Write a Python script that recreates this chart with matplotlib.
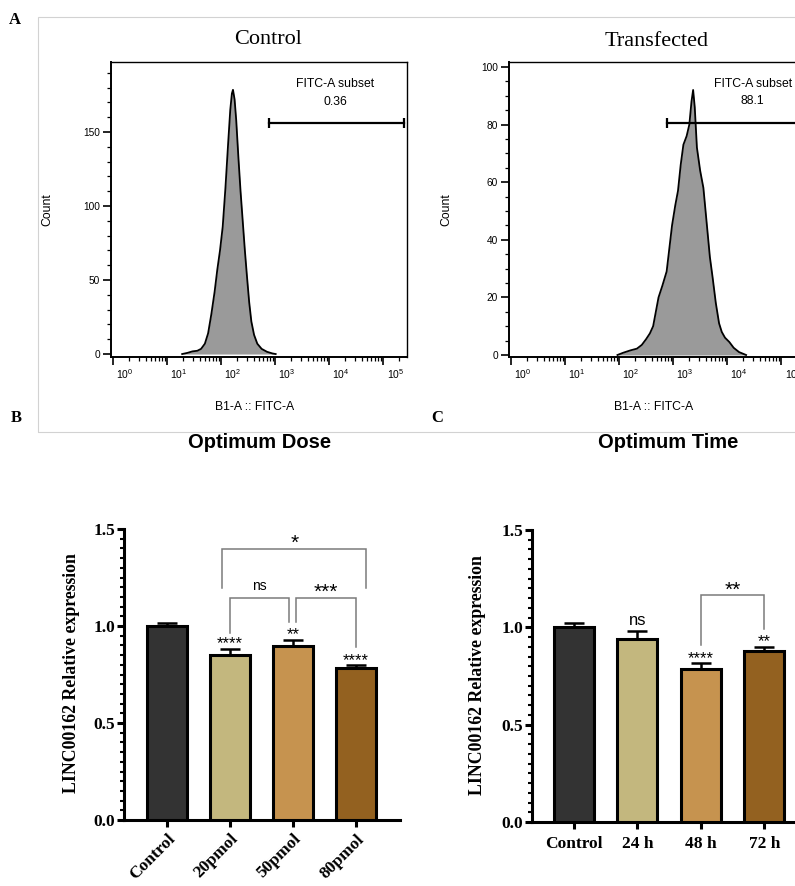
import numpy as np
import matplotlib
matplotlib.use('Agg')
import matplotlib.pyplot as plt
from matplotlib.ticker import MultipleLocator, FixedLocator, NullFormatter
from matplotlib.transforms import ScaledTranslation, offset_copy
from matplotlib.patches import Rectangle

plt.rcParams['mathtext.default'] = 'regular'

# ---------------- data ----------------
# Flow cytometry histograms (log10 of B1-A :: FITC-A intensity, count)
ctrl_hist_logx = [1.28, 1.38, 1.47, 1.56, 1.63, 1.70, 1.76, 1.82, 1.88, 1.93, 1.98,
                  2.03, 2.08, 2.13, 2.17, 2.20, 2.22, 2.25, 2.28, 2.32, 2.36, 2.40,
                  2.44, 2.48, 2.52, 2.56, 2.61, 2.67, 2.75, 2.85, 2.95, 3.01]
ctrl_hist_count = [0, 0.8, 1.8, 2.2, 3.5, 7, 14, 27, 42, 57, 70,
                   86, 112, 142, 165, 176, 178.5, 172, 158, 133, 110, 90,
                   70, 52, 35, 22, 13, 7, 3.5, 1.5, 0.4, 0]
trans_hist_logx = [1.97, 2.08, 2.21, 2.33, 2.42, 2.50, 2.57, 2.63, 2.68, 2.73, 2.80,
                   2.88, 2.93, 2.98, 3.04, 3.09, 3.14, 3.19, 3.25, 3.30, 3.34, 3.37,
                   3.40, 3.44, 3.50, 3.56, 3.62, 3.68, 3.73, 3.79, 3.85, 3.90, 3.96,
                   4.04, 4.12, 4.22, 4.35]
trans_hist_count = [0, 0.8, 1.6, 2.2, 3.5, 5.5, 7.5, 10, 15, 20, 24,
                    29, 37, 45, 52, 57, 66, 73, 76, 80, 88, 92,
                    86, 72, 64, 58, 46, 34, 27, 18, 11, 8, 6,
                    4.5, 2.5, 1, 0]
ctrl_gate_logx = [2.88, 5.38]
ctrl_gate_count = 156
ctrl_gate_value = "0.36"
trans_gate_logx = [2.88, 5.38]
trans_gate_count = 80.5
trans_gate_value = "88.1"
hist_decades = [0, 1, 2, 3, 4, 5]

# qPCR bar charts
dose_labels = ['Control', '20pmol', '50pmol', '80pmol']
dose_mean = [1.0, 0.85, 0.895, 0.785]
dose_err = [0.015, 0.03, 0.035, 0.012]
dose_sig = ['', '****', '**', '****']
time_labels = ['Control', '24 h', '48 h', '72 h']
time_mean = [1.0, 0.94, 0.785, 0.88]
time_err = [0.02, 0.043, 0.03, 0.018]
time_sig = ['', 'ns', '****', '**']
bar_colors = ['#333333', '#C3B77E', '#C6934F', '#936120']

# comparison brackets: (x_left, x_right, top, left_bottom, right_bottom, label)
dose_brackets = [(1.0, 1.94, 1.144, 0.964, 1.02, 'ns'),
                 (2.05, 3.0, 1.144, 1.02, 0.89, '***'),
                 (0.88, 3.16, 1.397, 1.196, 1.196, '*')]
time_brackets = [(2.0, 3.0, 1.164, 0.908, 0.993, '**')]

# ---------------- figure ----------------
W, H = 795, 886
fig = plt.figure(figsize=(W / 100, H / 100), dpi=100)
SERIF = 'Liberation Serif'
SANS = 'Liberation Sans'


def R(l, t, r, b):
    return [l / W, 1 - b / H, (r - l) / W, (b - t) / H]


def ftext(x, y, s, **kw):
    fig.text(x / W, 1 - y / H, s, **kw)


# light panel border around the cytometry plots
fig.add_artist(Rectangle((38 / W, 1 - 432 / H), (820 - 38) / W, (432 - 17) / H,
                         transform=fig.transFigure, fill=False,
                         edgecolor='#d2d2d2', lw=0.8))


def hist_panel(rect, lx, cnt, ylim, ymaj, ymin, gate_lx, gate_y, value,
               text_lx, text_y1, text_y2, title, title_xy, count_x, xlabel_x):
    ax = fig.add_axes(R(*rect))
    xs = 10 ** np.array(lx)
    ax.fill_between(xs, cnt, 0, color='#9a9a9a', lw=0, zorder=2)
    ax.plot(xs, cnt, color='black', lw=1.3, zorder=3, solid_joinstyle='round')
    ax.set_xscale('log')
    ax.set_xlim(10 ** (-0.037), 10 ** 5.44)
    ax.set_ylim(*ylim)
    ax.xaxis.set_major_locator(FixedLocator([10.0 ** k for k in hist_decades]))
    minors = [m * 10.0 ** k for k in hist_decades for m in range(2, 10)]
    ax.xaxis.set_minor_locator(FixedLocator(minors))
    ax.xaxis.set_major_formatter(NullFormatter())
    ax.xaxis.set_minor_formatter(NullFormatter())
    ax.yaxis.set_major_locator(MultipleLocator(ymaj))
    ax.yaxis.set_minor_locator(MultipleLocator(ymin))
    ax.tick_params(axis='both', which='major', direction='out', length=5.8,
                   width=1.2, colors='black')
    ax.tick_params(axis='both', which='minor', direction='out', length=2.9,
                   width=0.9, colors='black')
    ax.tick_params(axis='y', labelsize=7.3, pad=2)
    for lab in ax.get_yticklabels():
        lab.set_family(SANS)
    for s in ax.spines.values():
        s.set_linewidth(1.0)
    ax.spines['left'].set_linewidth(1.4)
    ax.spines['bottom'].set_linewidth(1.4)
    # decade labels, shifted right of the ticks
    tr = ax.get_xaxis_transform() + ScaledTranslation(12 / 100, -10 / 100, fig.dpi_scale_trans)
    for k in hist_decades:
        ax.text(10.0 ** k, 0, r'$10^{%d}$' % k, transform=tr, ha='center', va='top',
                fontsize=7.5, family=SANS, clip_on=False)
    # gate
    gx = 10 ** np.array(gate_lx)
    ax.plot(gx, [gate_y, gate_y], color='black', lw=1.6, zorder=4, clip_on=True)
    ax.plot(gx, [gate_y, gate_y], ls='none', marker='|', ms=7, mew=1.6,
            color='black', zorder=4)
    ax.text(10 ** text_lx, text_y1, 'FITC-A subset', ha='center', va='center',
            fontsize=8.8, family=SANS)
    ax.text(10 ** text_lx, text_y2, value, ha='center', va='center',
            fontsize=8.8, family=SANS)
    ftext(title_xy[0], title_xy[1], title, ha='center', va='center',
          fontsize=16, family=SERIF)
    ftext(count_x, 210, 'Count', rotation=90, ha='center', va='center',
          fontsize=8.8, family=SANS)
    ftext(xlabel_x, 407, 'B1-A :: FITC-A', ha='center', va='center',
          fontsize=8.8, family=SANS)
    return ax


hist_panel((111, 62, 407, 357), ctrl_hist_logx, ctrl_hist_count, (-2, 197.3), 50, 10,
           ctrl_gate_logx, ctrl_gate_count, ctrl_gate_value, 4.11, 182.4, 170.3,
           'Control', (268, 40), 47, 255)
hist_panel((509, 62, 805, 357), trans_hist_logx, trans_hist_count, (-0.7, 101.7), 20, 5,
           trans_gate_logx, trans_gate_count, trans_gate_value, 4.47, 94.1, 88.2,
           'Transfected', (657, 42), 446, 654)

# panel letters
ftext(15, 20, 'A', ha='center', va='center', fontsize=12, family=SERIF, weight='bold')
ftext(16, 418, 'B', ha='center', va='center', fontsize=12, family=SERIF, weight='bold')
ftext(437, 418, 'C', ha='center', va='center', fontsize=12, family=SERIF, weight='bold')


def star_text(ax, x, y, s, fs, gap_pt):
    tr = offset_copy(ax.transData, fig=fig, x=0, y=gap_pt, units='points')
    ax.text(x, y, s, transform=tr, ha='center', va='baseline', fontsize=fs,
            family=SANS, clip_on=False)


def bar_panel(rect, xlim, labels, means, errs, sigs, brackets, rotate, title, title_x, ylab_x):
    ax = fig.add_axes(R(*rect))
    n = len(labels)
    x = np.arange(n)
    ax.bar(x, means, width=0.63, color=bar_colors, edgecolor='black',
           linewidth=2.2, zorder=3)
    ax.errorbar(x, means, yerr=[np.zeros(n), errs], fmt='none', ecolor='black',
                elinewidth=1.8, capsize=7.5, capthick=1.8, zorder=2)
    ax.set_xlim(*xlim)
    ax.set_ylim(0, 1.5)
    for side in ('top', 'right'):
        ax.spines[side].set_visible(False)
    for side in ('left', 'bottom'):
        ax.spines[side].set_linewidth(2.2)
    ax.yaxis.set_major_locator(MultipleLocator(0.5))
    ax.yaxis.set_minor_locator(MultipleLocator(0.05))
    ax.set_yticks([0, 0.5, 1.0, 1.5])
    ax.set_yticklabels(['0.0', '0.5', '1.0', '1.5'], family=SERIF, weight='bold',
                       fontsize=12.5)
    ax.tick_params(axis='y', which='major', length=5, width=2.2, pad=1.5)
    ax.tick_params(axis='y', which='minor', length=2.6, width=1.5)
    ax.tick_params(axis='x', which='major', length=5, width=2.2, pad=5)
    ax.set_xticks(x)
    if rotate:
        ax.set_xticklabels(labels, rotation=45, ha='right', va='top',
                           rotation_mode='anchor', family=SERIF, weight='bold',
                           fontsize=12.5)
        ax.tick_params(axis='x', pad=3)
    else:
        ax.set_xticklabels(labels, family=SERIF, weight='bold', fontsize=12.5)
    # significance over bars
    for xi, m, e, s in zip(x, means, errs, sigs):
        if not s:
            continue
        if s == 'ns':
            star_text(ax, xi, m + e, s, 12, 4)
        else:
            star_text(ax, xi, m + e, s, 12, 0.5)
    # brackets
    for (x1, x2, top, b1, b2, lab) in brackets:
        ax.plot([x1, x1, x2, x2], [b1, top, top, b2], color='#7a7a7a', lw=1.1,
                zorder=4, clip_on=False, solid_joinstyle='miter')
        if lab == 'ns':
            star_text(ax, (x1 + x2) / 2, top, lab, 10, 5.8)
        else:
            star_text(ax, (x1 + x2) / 2, top, lab, 15, 0)
    ftext(title_x, 443, title, ha='center', va='center', fontsize=14.5,
          family=SANS, weight='bold')
    ftext(ylab_x, (rect[1] + rect[3]) / 2 - 1, 'LINC00162 Relative expression',
          rotation=90, ha='center', va='center', fontsize=12.8, family=SERIF,
          weight='bold')
    return ax


bar_panel((124, 529, 400, 820), (-0.683, 3.70), dose_labels, dose_mean, dose_err,
          dose_sig, dose_brackets, True, 'Optimum Dose', 260, 71)
bar_panel((532, 530, 808, 822), (-0.663, 3.69), time_labels, time_mean, time_err,
          time_sig, time_brackets, False, 'Optimum Time', 668, 477)

fig.savefig('out.png', dpi=100)
